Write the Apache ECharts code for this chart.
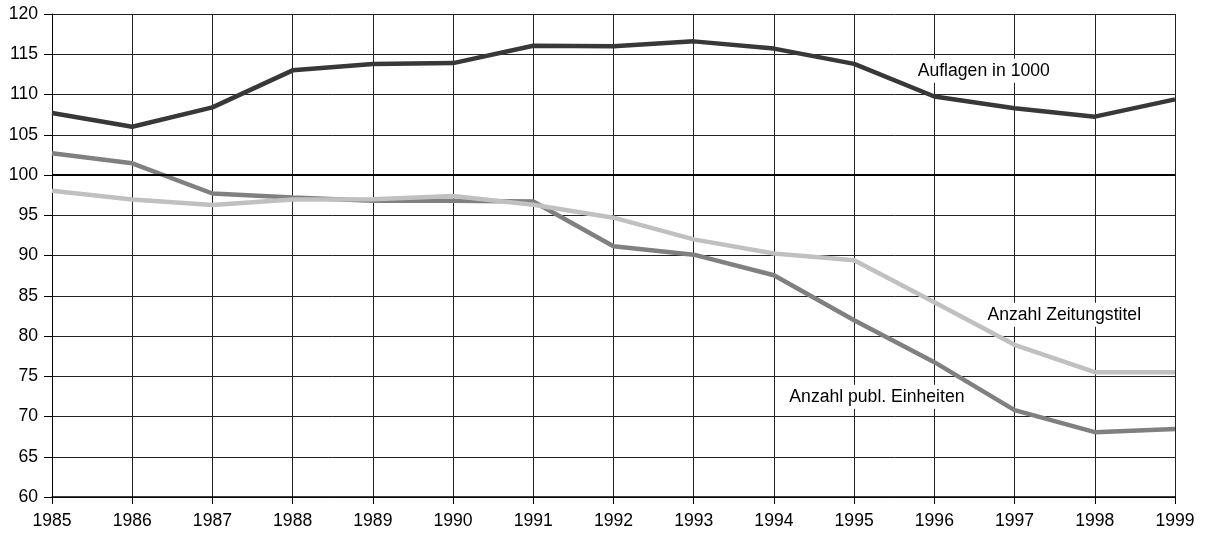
<!DOCTYPE html>
<html>
<head>
<meta charset="utf-8">
<script src="https://cdn.jsdelivr.net/npm/echarts@6/dist/echarts.min.js"></script>
<style>
html,body{margin:0;padding:0;background:#fff;}
#c{width:1207px;height:534px;}
</style>
</head>
<body>
<div id="c"></div>
<script>
const years = [1985,1986,1987,1988,1989,1990,1991,1992,1993,1994,1995,1996,1997,1998,1999];
const auflagen = [107.7,106.0,108.4,113.0,113.8,113.9,116.05,116.0,116.6,115.7,113.8,109.75,108.3,107.25,109.4];
const einheiten = [102.7,101.45,97.7,97.2,96.8,96.8,96.7,91.15,90.1,87.55,81.95,76.75,70.8,68.05,68.45];
const zeitungstitel = [98.05,96.95,96.26,96.95,97.0,97.4,96.3,94.7,92.0,90.25,89.4,84.2,78.9,75.5,75.5];
const seriesNames = ['Auflagen in 1000','Anzahl publ. Einheiten','Anzahl Zeitungstitel'];
const yTicks = [60,65,70,75,80,85,90,95,100,105,110,115,120];

const pairs = arr => years.map((y,i)=>[y,arr[i]]);
const font = '"Liberation Sans", Arial, Helvetica, sans-serif';
const fs = 17.6;

function labelPoint(name, coord){
  return {
    symbol:'rect', symbolSize:0,
    data:[{coord:coord, value:name}],
    label:{show:true, position:'inside', align:'left', verticalAlign:'middle',
      formatter:name, color:'#000', fontSize:fs, fontFamily:font,
      backgroundColor:'#fff', padding:[3,1,3,1]},
    silent:true, animation:false
  };
}

const chart = echarts.init(document.getElementById('c'), null, {renderer:'canvas'});
chart.setOption({
  animation:false,
  backgroundColor:'#fff',
  grid:{left:52, right:32, top:14, bottom:37, containLabel:false},
  xAxis:{
    type:'value', min:1985, max:1999, interval:1,
    axisLine:{show:true, lineStyle:{color:'#000', width:1.5}},
    axisTick:{show:true, length:7, lineStyle:{color:'#000', width:1}},
    axisLabel:{color:'#000', fontSize:fs, fontFamily:font, margin:15, formatter:v=>String(v)},
    splitLine:{show:true, lineStyle:{color:'#222', width:1}}
  },
  yAxis:{
    type:'value', min:60, max:120, interval:5,
    axisLine:{show:true, lineStyle:{color:'#000', width:1}},
    axisTick:{show:true, length:8, lineStyle:{color:'#000', width:1}},
    axisLabel:{color:'#000', fontSize:fs, fontFamily:font, margin:14,
      formatter:v=>yTicks.includes(v)?String(v):''},
    splitLine:{show:true, lineStyle:{color:'#222', width:1}}
  },
  series:[
    {
      name:seriesNames[0], type:'line', data:pairs(auflagen), symbol:'none',
      lineStyle:{color:'#383838', width:4.5}, z:5,
      markLine:{silent:true, symbol:'none', label:{show:false},
        lineStyle:{color:'#000', width:2, type:'solid'}, data:[{yAxis:100}]},
      markPoint:labelPoint(seriesNames[0],[1995.78,112.94])
    },
    {
      name:seriesNames[1], type:'line', data:pairs(einheiten), symbol:'none',
      lineStyle:{color:'#808080', width:4.5}, z:4,
      markPoint:labelPoint(seriesNames[1],[1994.18,72.45])
    },
    {
      name:seriesNames[2], type:'line', data:pairs(zeitungstitel), symbol:'none',
      lineStyle:{color:'#c0c0c0', width:4.5}, z:6,
      markPoint:labelPoint(seriesNames[2],[1996.65,82.65])
    }
  ]
});
</script>
</body>
</html>
